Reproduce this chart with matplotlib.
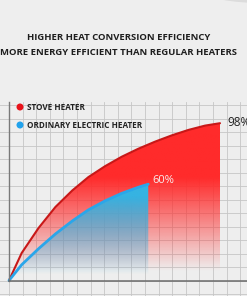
import matplotlib
matplotlib.use("Agg")
import matplotlib.pyplot as plt
import numpy as np
from matplotlib.patches import Polygon, Ellipse

# curve data (x: share of run, y: efficiency %)
stove_x = [0, 6, 14, 22, 30, 37.6, 45.5, 53.4, 61.3, 69.2, 77.1, 85, 92.9, 100]
stove_y = [0, 17.1, 32.7, 45.8, 56.1, 64.4, 71.2, 77.1, 82.1, 86.5, 90.4, 93.8, 96.5, 98]
electric_x = [0, 6, 14, 22, 30, 37.6, 45.5, 53.4, 61.3, 66]
electric_y = [0, 9.8, 19.8, 29.0, 37.1, 44.0, 49.6, 54.3, 58.1, 60]

titles = ["HIGHER HEAT CONVERSION EFFICIENCY",
          "MORE ENERGY EFFICIENT THAN REGULAR HEATERS"]
legend_labels = ["STOVE HEATER", "ORDINARY ELECTRIC HEATER"]
end_labels = ["98%", "60%"]

BG = "#eeeeee"
W, H = 247, 296
# pixel geometry of the plot area
px_x, px_y = 2.11, 1.605      # pixels per data unit
ox, oy = 9, 280.5            # origin in pixels (y from top)

plt.rc('font', family=['Open Sans', 'DejaVu Sans'])

fig = plt.figure(figsize=(W / 100, H / 100), dpi=100, facecolor=BG)
ax = fig.add_axes([0, 0, 1, 1])
ax.set_facecolor(BG)
ax.set_xlim(-ox / px_x, (W - ox) / px_x)
ax.set_ylim(-(H - oy) / px_y, oy / px_y)
ax.axis('off')

# grid
gx, gy = 13.6 / px_x, 13.5 / px_y
top = 111
for k in range(-1, 19):
    ax.plot([k * gx, k * gx], [-20, top], color="#c6c6c6", lw=0.6, zorder=1)
for k in range(-2, 14):
    ax.plot([-10, 120], [k * gy, k * gy], color="#c6c6c6", lw=0.6, zorder=1)
ax.plot([0, 0], [0, top], color="#7a7a7a", lw=1.0, zorder=6)
ax.plot([0, 120], [0, 0], color="#6a6a6a", lw=1.1, zorder=6)


def gradient_fill(x, y, rgb, y0, span, power, z):
    verts = list(zip(x, y)) + [(x[-1], 0), (0, 0)]
    poly = Polygon(verts, closed=True, facecolor='none', edgecolor='none')
    ax.add_patch(poly)
    ys = np.linspace(0, max(y), 256)
    alpha = np.clip((ys - y0) / span, 0, 1) ** power
    img = np.zeros((256, 1, 4))
    img[:, 0, :3] = rgb
    img[:, 0, 3] = alpha
    im = ax.imshow(img, extent=[0, x[-1], 0, max(y)], origin='lower',
                   aspect='auto', zorder=z, interpolation='bilinear')
    im.set_clip_path(poly)


gradient_fill(stove_x, stove_y, matplotlib.colors.to_rgb("#ff2b2b"), 6, 58, 1.0, 2)
gradient_fill(electric_x, electric_y, matplotlib.colors.to_rgb("#36b3e2"), 4, 48, 0.9, 3)

ax.plot(stove_x, stove_y, color="#c81818", lw=1.5, zorder=5, solid_capstyle='round',
        solid_joinstyle='round')
ax.plot(electric_x, electric_y, color="#2aa6ea", lw=2.0, zorder=5, solid_capstyle='round',
        solid_joinstyle='round')

ax.text(stove_x[-1] + 3.6, stove_y[-1] + 0.5, end_labels[0], fontsize=8.5,
        color="#222222", va='center', ha='left', zorder=7)
ax.text(electric_x[-1] + 2.0, electric_y[-1] + 2.5, end_labels[1], fontsize=8,
        color="#f8f0f0", va='center', ha='left', zorder=7)

# legend
leg_colors = ["#e8131b", "#21a2ec"]
for i, (lab, c) in enumerate(zip(legend_labels, leg_colors)):
    yp = 1 - (107 + 18 * i) / H
    fig.patches.append(Ellipse((20 / W, yp), 7 / W, 7 / H, transform=fig.transFigure,
                               facecolor=c, edgecolor='none', zorder=8))
    fig.text(26.5 / W, yp, lab, fontsize=5.9, fontweight='bold', color="#222222",
             va='center', ha='left')

# titles
fig.text(118.5 / W, 1 - 37.5 / H, titles[0], fontsize=6.8, fontweight='bold',
         color="#1e1e1e", ha='center', va='center')
fig.text(118.5 / W, 1 - 52.5 / H, titles[1], fontsize=6.8, fontweight='bold',
         color="#1e1e1e", ha='center', va='center')

# decorative shade at the top right
fig.patches.append(Ellipse((262 / W, 1 + 8 / H), 112 / W, 22 / H, transform=fig.transFigure,
                           facecolor="#dcdcdc", edgecolor='none', zorder=0))
fig.patches.append(Ellipse((264 / W, 1 + 10 / H), 106 / W, 20 / H, transform=fig.transFigure,
                           facecolor="#f3f3f3", edgecolor='none', zorder=0))

fig.savefig("out.png", dpi=100, facecolor=BG)
